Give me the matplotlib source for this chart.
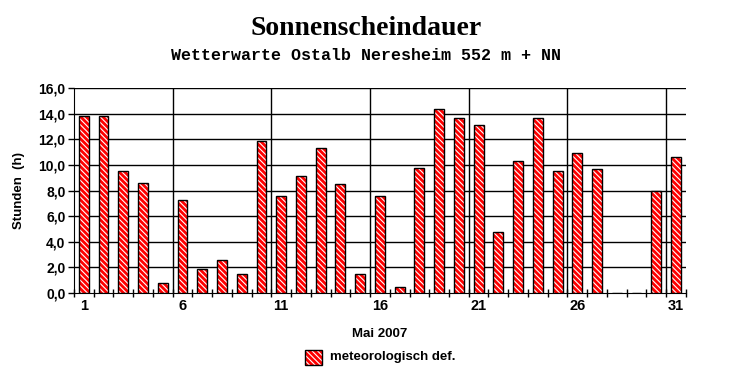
import matplotlib.pyplot as plt
import numpy as np

# Sonnenscheindauer Mai 2007, Stunden pro Tag
days = list(range(1, 32))
hours = [13.8, 13.8, 9.5, 8.6, 0.8, 7.3, 1.9, 2.6, 1.5, 11.9,
         7.6, 9.1, 11.3, 8.5, 1.5, 7.6, 0.5, 9.8, 14.4, 13.7,
         13.1, 4.8, 10.3, 13.7, 9.5, 10.9, 9.7, 0.0, 0.0, 8.0,
         10.6]
xtick_labels = [1, 6, 11, 16, 21, 26, 31]
yticks = np.arange(0, 16.1, 2.0)

plt.rcParams['hatch.linewidth'] = 0.8
HATCH = '\\' * 6

fig = plt.figure(figsize=(7.32, 3.80), dpi=100)
ax = fig.add_axes([0.101, 0.229, 0.836, 0.539])

# Balken: rote Fläche mit weißer Schraffur, dann schwarzer Rand
ax.bar(days, hours, width=0.5, color='#ff0000', edgecolor='white',
       hatch=HATCH, linewidth=0, zorder=3)
ax.bar(days, hours, width=0.5, fill=False, edgecolor='black',
       linewidth=1, zorder=4)

ax.set_xlim(0.5, 31.5)
ax.set_ylim(0, 16)

# Gitter
for y in yticks[1:]:
    ax.axhline(y, color='black', linewidth=1, zorder=1)
for x in [5.5, 10.5, 15.5, 20.5, 25.5, 30.5]:
    ax.axvline(x, color='black', linewidth=1, zorder=1)

ax.spines['top'].set_visible(False)
ax.spines['right'].set_visible(False)

ax.set_yticks(yticks)
ax.set_yticklabels([f'{v:.1f}'.replace('.', ',') for v in yticks],
                   fontsize=10, fontweight='bold', family='Liberation Sans')
ax.set_xticks(xtick_labels)
ax.set_xticklabels([str(d) for d in xtick_labels], fontsize=10.5,
                   fontweight='bold', family='Liberation Sans')
ax.set_xticks(np.arange(0.5, 31.6, 1.0), minor=True)
ax.tick_params(axis='x', which='major', length=0, pad=4)
ax.tick_params(axis='x', which='minor', direction='inout', length=6, width=1)
ax.tick_params(axis='y', length=4, width=1, pad=2)

ax.set_ylabel('Stunden  (h)', fontsize=9.5, fontweight='bold',
              family='Liberation Sans', labelpad=10)
ax.set_xlabel('Mai 2007', fontsize=9.5, fontweight='bold',
              family='Liberation Sans', labelpad=11)

fig.text(0.5, 0.925, 'Sonnenscheindauer', ha='center', va='center',
         fontsize=20, fontweight='bold', family='Liberation Serif')
fig.text(0.5, 0.853, 'Wetterwarte Ostalb Neresheim 552 m + NN',
         ha='center', va='center', fontsize=12, fontweight='bold',
         family='Liberation Mono')

# Legende
lx, ly = 0.416, 0.06
fig.patches.append(plt.Rectangle((lx, ly - 0.02), 0.024, 0.04,
                                 transform=fig.transFigure, facecolor='#ff0000',
                                 edgecolor='white', hatch=HATCH, linewidth=0))
fig.patches.append(plt.Rectangle((lx, ly - 0.02), 0.024, 0.04,
                                 transform=fig.transFigure, fill=False,
                                 edgecolor='black', linewidth=1))
fig.text(lx + 0.035, ly, 'meteorologisch def.', ha='left', va='center',
         fontsize=9.5, fontweight='bold', family='Liberation Sans')

fig.savefig('out.png', dpi=100)
